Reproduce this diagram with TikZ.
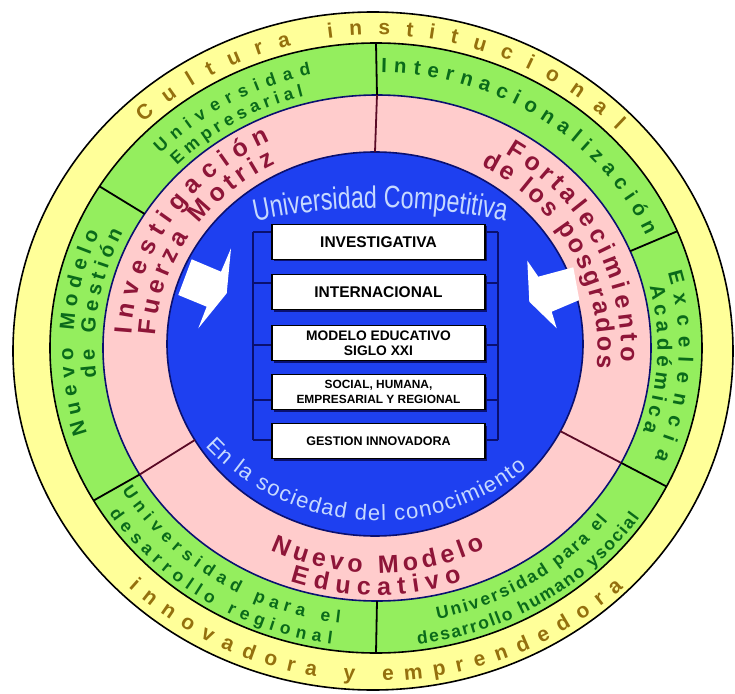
\documentclass[tikz,border=0pt]{standalone}
\usepackage{fontspec}
\setmainfont{Liberation Sans}
\newfontfamily\narrowfont[FakeStretch=0.75]{Liberation Sans}
\usetikzlibrary{decorations.text, shadows}
\definecolor{cyellow}{HTML}{FFFF99}
\definecolor{cgreen}{HTML}{94EE5E}
\definecolor{cpink}{HTML}{FFCCCC}
\definecolor{cblue}{HTML}{1E40F0}
\definecolor{cnavy}{HTML}{0A1070}
\definecolor{cmaroon}{HTML}{5A0A25}
\definecolor{tyellow}{HTML}{94700E}
\definecolor{tgreen}{HTML}{0A6A1A}
\definecolor{tpink}{HTML}{8E1538}
\definecolor{tblue}{HTML}{C6D9FF}
\newcommand\yfont{\color{tyellow}\bfseries\fontsize{21}{21}\selectfont}
\newcommand\gfont{\color{tgreen}\bfseries\fontsize{17.5}{17.5}\selectfont}
\newcommand\Gfont{\color{tgreen}\bfseries\fontsize{20.5}{20.5}\selectfont}
\newcommand\pfont{\color{tpink}\bfseries\fontsize{25}{25}\selectfont}
\newcommand\bfont{\color{tblue}\fontsize{22}{22}\selectfont}
\newcommand\tfont{\color{tblue}\narrowfont\fontsize{31}{31}\selectfont}
% text on an arc of the rings: start, end, radius, format, text
\newcommand\arctext[5]{%
  \path[arc text={#4}{#5}] ({1.07*#3*cos(#1)},{#3*sin(#1)})
    arc[start angle=#1, end angle=#2, x radius=1.07*#3, y radius=#3];}
\tikzset{
  every picture/.style={line width=1.6pt},
  ring/.style={draw=#1},
  divider/.style={draw=#1, line width=1.8pt},
  rail/.style={draw=cnavy, line width=2.2pt},
  label box/.style={draw=black, fill=white, line width=1.4pt, minimum width=213pt, minimum height=35pt,
    inner sep=1pt, align=center, drop shadow={shadow xshift=2pt, shadow yshift=-2pt, fill=cnavy, opacity=1}},
  arc text/.style 2 args={decorate, decoration={text along path, text align=fit to path, text={|#1|#2}}},
}

\begin{document}
\begin{tikzpicture}[x=1pt, y=1pt]
  \useasboundingbox (-376,-345) rectangle (359,348);
  % rings
  \draw[ring=black, fill=cyellow] (-3,-3) ellipse[x radius=360, y radius=339];
  \draw[ring=black, fill=cgreen] (0,0) ellipse[x radius=326, y radius=305];
  \draw[ring=cnavy, fill=cpink] (1,0) ellipse[x radius=274, y radius=253];
  \draw[ring=cnavy, fill=cblue] (-1,4) ellipse[x radius=208, y radius=192];
  % dividers
  \foreach \a in {148,22.5,270}
    \draw[divider=black] ({326*cos(\a)},{305*sin(\a)}) -- ({1+274*cos(\a)},{253*sin(\a)});
  \foreach \a in {90,-27,210} {
    \draw[divider=black] ({326*cos(\a)},{305*sin(\a)}) -- ({1+274*cos(\a)},{253*sin(\a)});
    \draw[divider=cmaroon] ({1+274*cos(\a)},{253*sin(\a)}) -- ({-1+208*cos(\a)},{4+192*sin(\a)});
  }
  % white arrows
  \fill[white] (-184.3,88.7) -- (-155,76.3) -- (-145,99.7) -- (-149.3,54.7) -- (-177.7,19.7)
    -- (-169.3,41.3) -- (-197.7,53) -- cycle;
  \fill[white] (151.3,87.3) -- (162.3,71.3) -- (197.3,80.7) -- (203.3,48) -- (175.7,36.3)
    -- (180.7,19.7) -- (153.3,46.3) -- cycle;
  % boxes
  \foreach \y/\fs/\txt [count=\k] in {106/15.5/INVESTIGATIVA, 56/15.5/INTERNACIONAL,
      5/13.8/{MODELO EDUCATIVO\\SIGLO XXI}, -44/11.9/{SOCIAL, HUMANA,\\EMPRESARIAL Y REGIONAL},
      -93/12.5/GESTION INNOVADORA}
    \node[label box, font=\bfseries\fontsize{\fs}{15.5}\selectfont] (b\k) at (2.5,\y) {\txt};
  % ladder
  \coordinate (lrail) at (-123,0);
  \coordinate (rrail) at (122,0);
  \foreach \k/\dy in {1/10, 2/9, 3/-2, 4/-8, 5/1} {
    \path (b\k.center) ++(0,\dy) coordinate (m\k);
    \draw[rail] (lrail |- m\k) -- (m\k -| b\k.west);
    \draw[rail] (rrail |- m\k) -- (m\k -| b\k.east);
  }
  \draw[rail] (lrail |- m1) -- (lrail |- m5);
  \draw[rail] (rrail |- m1) -- (rrail |- m5);
  % yellow ring
  \arctext{134}{44}{313}{\yfont}{Cultura institucional}
  \arctext{226}{314}{333}{\yfont}{innovadora y emprendedora}
  % green ring
  \arctext{136}{102.5}{280}{\gfont}{Universidad}
  \arctext{135.5}{105}{261}{\gfont}{Empresarial}
  \arctext{89}{24}{276}{\Gfont}{Internacionalización}
  \arctext{197.5}{156}{283}{\Gfont}{Nuevo Modelo}
  \arctext{186.5}{154}{263}{\Gfont}{de Gestión}
  \arctext{15.5}{-23}{283}{\Gfont}{Excelencia}
  \arctext{13.5}{-18.5}{263}{\Gfont}{Académica}
  \arctext{211}{263}{277}{\gfont}{Universidad para el}
  \arctext{213.5}{262}{299}{\gfont}{desarrollo regional}
  \arctext{282}{321.5}{277}{\gfont}{Universidad para el}
  \arctext{277.5}{325.5}{299}{\gfont}{desarrollo humano ysocial}
  % pink ring
  \arctext{176.5}{115.5}{229}{\pfont}{Investigación}
  \arctext{176.5}{117}{207}{\pfont}{Fuerza Motriz}
  \arctext{58}{-3.5}{229}{\pfont}{Fortalecimiento}
  \arctext{61.5}{-5.5}{207}{\pfont}{de los posgrados}
  \arctext{244}{297}{225}{\pfont}{Nuevo Modelo}
  \arctext{251}{289}{247}{\pfont}{Educativo}
  % blue centre
  \path[arc text={\tfont}{Universidad Competitiva}] (4,-460) ++(102:600) arc[start angle=102, end angle=78, radius=600];
  \path[arc text={\bfont}{En la sociedad del conocimiento}] (2,63) ++(223:236) arc[start angle=223, end angle=309, radius=236];
\end{tikzpicture}
\end{document}
